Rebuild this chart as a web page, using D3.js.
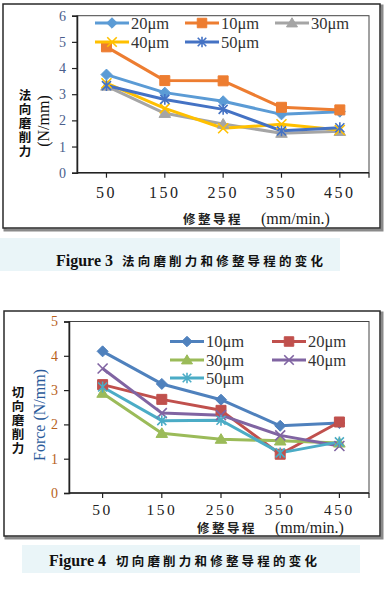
<!DOCTYPE html>
<html><head><meta charset="utf-8">
<script src="https://cdn.jsdelivr.net/npm/d3@7"></script>
<style>
html,body{margin:0;padding:0;background:#fff;}
svg{display:block;}
</style></head>
<body>
<svg id="c" width="390" height="591"></svg>
<script>
// ---------- data ----------
const categories = ["50", "150", "250", "350", "450"];

// Figure 3: 法向磨削力 (normal grinding force)
const fig3Names = ["20μm", "10μm", "30μm", "40μm", "50μm"];
const fig3_20 = [3.75, 3.06, 2.73, 2.23, 2.33];
const fig3_10 = [4.81, 3.52, 3.51, 2.50, 2.40];
const fig3_30 = [3.31, 2.27, 1.86, 1.51, 1.58];
const fig3_40 = [3.42, 2.46, 1.70, 1.85, 1.63];
const fig3_50 = [3.33, 2.80, 2.42, 1.60, 1.72];
const fig3Ticks = [0, 1, 2, 3, 4, 5, 6];

// Figure 4: 切向磨削力 (tangential grinding force)
const fig4Names = ["10μm", "20μm", "30μm", "40μm", "50μm"];
const fig4_10 = [4.13, 3.18, 2.72, 1.96, 2.04];
const fig4_20 = [3.16, 2.73, 2.41, 1.13, 2.07];
const fig4_30 = [2.91, 1.74, 1.57, 1.52, 1.46];
const fig4_40 = [3.63, 2.33, 2.27, 1.68, 1.37];
const fig4_50 = [3.09, 2.11, 2.12, 1.17, 1.49];
const fig4Ticks = [0, 1, 2, 3, 4, 5];

// ---------- helpers ----------
const svg = d3.select("#c");
const serif = "'Liberation Serif','Times New Roman',serif";
const cjk = "'Noto Sans CJK SC','Noto Sans',sans-serif";

function markerPath(type, r) {
  const p = d3.path();
  if (type === "diamond") { p.moveTo(0,-r); p.lineTo(r,0); p.lineTo(0,r); p.lineTo(-r,0); p.closePath(); }
  else if (type === "square") { p.rect(-r,-r,2*r,2*r); }
  else if (type === "triangle") { p.moveTo(0,-r); p.lineTo(r*1.05,r*0.75); p.lineTo(-r*1.05,r*0.75); p.closePath(); }
  else if (type === "x") { p.moveTo(-r,-r); p.lineTo(r,r); p.moveTo(r,-r); p.lineTo(-r,r); }
  else if (type === "star") { p.moveTo(-r,-r); p.lineTo(r,r); p.moveTo(r,-r); p.lineTo(-r,r); p.moveTo(0,-r*1.2); p.lineTo(0,r*1.2); }
  return p.toString();
}
function drawMarker(g, type, color, x, y, r) {
  const filled = (type === "diamond" || type === "square" || type === "triangle");
  g.append("path").attr("d", markerPath(type, r))
    .attr("transform", `translate(${x},${y})`)
    .attr("fill", filled ? color : "none")
    .attr("stroke", color).attr("stroke-width", filled ? 1 : 1.6);
}

function drawChart(cfg) {
  const g = svg.append("g");
  // outer frame with shadow
  g.append("rect").attr("x", cfg.frame[0]+2).attr("y", cfg.frame[1]+2)
    .attr("width", cfg.frame[2]-cfg.frame[0]).attr("height", cfg.frame[3]-cfg.frame[1])
    .attr("fill", "none").attr("stroke", "#8a8a8a").attr("stroke-width", 3);
  g.append("rect").attr("x", cfg.frame[0]).attr("y", cfg.frame[1])
    .attr("width", cfg.frame[2]-cfg.frame[0]).attr("height", cfg.frame[3]-cfg.frame[1])
    .attr("fill", "#fff").attr("stroke", "#2a2a2a").attr("stroke-width", 1.5);

  const x = d3.scaleBand().domain(categories).range([cfg.bandLeft, cfg.right]);
  const y = d3.scaleLinear().domain([0, cfg.ymax]).range([cfg.bottom, cfg.top]);

  // plot area box
  g.append("rect").attr("x", cfg.left).attr("y", y(cfg.ymax))
    .attr("width", cfg.right - cfg.left).attr("height", cfg.bottom - y(cfg.ymax))
    .attr("fill", "none").attr("stroke", "#444").attr("stroke-width", 1);

  // y axis
  const ya = g.append("g").attr("transform", `translate(${cfg.left},0)`)
    .call(d3.axisLeft(y).tickValues(cfg.ticks).tickSize(5).tickPadding(6).tickFormat(d3.format("d")));
  ya.select(".domain").attr("stroke", "#222").attr("stroke-width", 1.5);
  ya.selectAll(".tick line").attr("stroke", "#222").attr("stroke-width", 1.2);
  ya.selectAll("text").attr("font-family", serif).attr("font-size", 14)
    .attr("fill", cfg.ytickColor);

  // x axis
  const xa = g.append("g").attr("transform", `translate(0,${cfg.bottom})`)
    .call(d3.axisBottom(x).tickSize(5).tickSizeOuter(0).tickPadding(cfg.xPad));
  xa.select(".domain").remove();
  xa.append("line").attr("x1", cfg.left).attr("x2", cfg.right).attr("stroke", "#222").attr("stroke-width", 1.5);
  xa.append("line").attr("x1", cfg.right).attr("x2", cfg.right).attr("y2", 5).attr("stroke", "#222").attr("stroke-width", 1.2);
  xa.selectAll(".tick line").attr("stroke", "#222").attr("stroke-width", 1.2);
  xa.selectAll("text").attr("font-family", serif).attr("font-size", cfg.xFont)
    .attr("letter-spacing", "2.5px").attr("fill", "#222");

  // x title
  const xt = g.append("text").attr("y", cfg.xTitleY).attr("fill", "#222");
  xt.append("tspan").attr("x", cfg.xTitleX).attr("font-family", cjk).attr("font-weight", "bold")
    .attr("font-size", 12.5).attr("letter-spacing", "2.5px").text("修整导程");
  xt.append("tspan").attr("dx", 18).attr("font-family", serif).attr("font-size", 16).text("(mm/min.)");

  // y titles: vertical CJK + rotated
  g.append("text").attr("x", cfg.yCJKx).attr("y", cfg.yCJKy)
    .attr("writing-mode", "vertical-rl").style("writing-mode", "vertical-rl")
    .attr("font-family", cjk).attr("font-weight", "bold").attr("font-size", 12.5)
    .attr("letter-spacing", "1.5px").attr("fill", "#111").text(cfg.yCJK);
  g.append("text").attr("transform", `translate(${cfg.yRotX},${cfg.yRotY}) rotate(-90)`)
    .attr("text-anchor", "middle").attr("dominant-baseline", "central")
    .attr("font-family", serif).attr("font-size", 16).attr("fill", cfg.yRotColor).text(cfg.yRot);

  // series
  const line = d3.line().x((d, i) => x(categories[i]) + x.bandwidth() / 2).y(d => y(d));
  cfg.series.forEach(s => {
    g.append("path").datum(s.values).attr("d", line)
      .attr("fill", "none").attr("stroke", s.color).attr("stroke-width", 3).attr("stroke-linejoin", "round");
  });
  cfg.series.forEach(s => {
    s.values.forEach((v, i) => drawMarker(g, s.marker, s.color, x(categories[i]) + x.bandwidth() / 2, y(v), s.r));
  });

  // legend
  cfg.series.forEach((s, i) => {
    const [lx, ly] = cfg.legendPos[i];
    g.append("line").attr("x1", lx).attr("x2", lx + 34).attr("y1", ly).attr("y2", ly)
      .attr("stroke", s.color).attr("stroke-width", 3);
    drawMarker(g, s.marker, s.color, lx + 17, ly, s.r * 0.95);
    g.append("text").attr("x", lx + 36).attr("y", ly).attr("dominant-baseline", "central")
      .attr("font-family", serif).attr("font-size", 16.5).attr("fill", "#333").text(s.name);
  });
}

// caption background bands (pale)
svg.append("rect").attr("x", 0).attr("y", 238).attr("width", 340).attr("height", 33).attr("fill", "#eaf5f8");
svg.append("rect").attr("x", 22).attr("y", 545).attr("width", 338).attr("height", 28).attr("fill", "#eaf5f8");

drawChart({
  frame: [3, 4, 380, 228],
  left: 77, bandLeft: 77.3, right: 369, top: 15.7, bottom: 172.7, ymax: 6, ticks: fig3Ticks,
  ytickColor: "#4a5e8c", xPad: 9, xFont: 16,
  xTitleX: 183, xTitleY: 224,
  yCJK: "法向磨削力", yCJKx: 25, yCJKy: 89,
  yRot: "(N/mm)", yRotX: 43, yRotY: 121, yRotColor: "#111",
  series: [
    {name: fig3Names[0], values: fig3_20, color: "#5B9BD5", marker: "diamond", r: 5.5},
    {name: fig3Names[1], values: fig3_10, color: "#ED7D31", marker: "square", r: 5},
    {name: fig3Names[2], values: fig3_30, color: "#A5A5A5", marker: "triangle", r: 5.5},
    {name: fig3Names[3], values: fig3_40, color: "#FFC000", marker: "x", r: 5},
    {name: fig3Names[4], values: fig3_50, color: "#4472C4", marker: "star", r: 4.5}
  ],
  legendPos: [[95, 23], [185, 23], [275, 23], [95, 42], [185, 42]]
});

drawChart({
  frame: [4, 311, 380, 536],
  left: 69, bandLeft: 73, right: 369, top: 321.5, bottom: 493, ymax: 5, ticks: fig4Ticks,
  ytickColor: "#b8621c", xPad: 6, xFont: 15.5,
  xTitleX: 197, xTitleY: 533,
  yCJK: "切向磨削力", yCJKx: 18, yCJKy: 386,
  yRot: "Force (N/mm)", yRotX: 39, yRotY: 415, yRotColor: "#2a5a9a",
  series: [
    {name: fig4Names[0], values: fig4_10, color: "#4F81BD", marker: "diamond", r: 5.5},
    {name: fig4Names[1], values: fig4_20, color: "#C0504D", marker: "square", r: 5},
    {name: fig4Names[2], values: fig4_30, color: "#9BBB59", marker: "triangle", r: 5.5},
    {name: fig4Names[3], values: fig4_40, color: "#8064A2", marker: "x", r: 5},
    {name: fig4Names[4], values: fig4_50, color: "#4BACC6", marker: "star", r: 4.5}
  ],
  legendPos: [[170, 341.5], [272, 341.5], [170, 360], [272, 360], [170, 378]]
});

// captions
function caption(xf, xc, yb, num, text) {
  svg.append("text").attr("x", xf).attr("y", yb).attr("fill", "#111")
    .attr("font-family", serif).attr("font-weight", "bold")
    .attr("font-size", 16).text("Figure " + num);
  svg.append("text").attr("x", xc).attr("y", yb).attr("font-family", cjk).attr("font-weight", "bold")
    .attr("font-size", 12.5).attr("letter-spacing", "3.2px").attr("fill", "#111").text(text);
}
caption(56, 122, 266, "3", "法向磨削力和修整导程的变化");
caption(49, 116, 566, "4", "切向磨削力和修整导程的变化");
</script>
</body></html>
